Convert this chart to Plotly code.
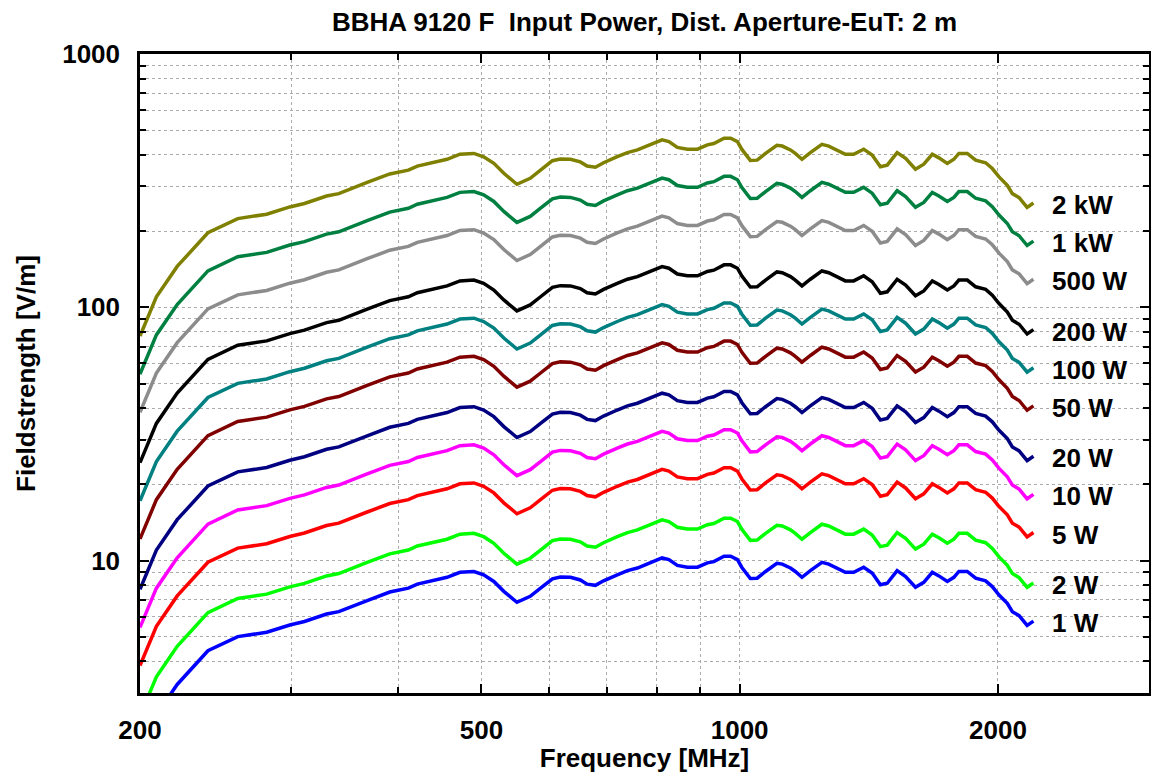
import math
import plotly.graph_objects as go

# ---- data (2 kW curve, V/m) ----
freq_mhz = [200, 209, 221, 240, 260, 281, 299, 311, 330, 341, 368, 391, 411, 421, 456, 472,
            490, 503, 517, 531, 550, 570, 586, 605, 618, 635, 652, 664, 679, 694, 720, 740,
            760, 777, 794, 812, 827, 846, 869, 893, 917, 933, 959, 976, 994, 1006, 1029, 1048,
            1072, 1105, 1121, 1146, 1161, 1182, 1209, 1247, 1270, 1299, 1328, 1358, 1395, 1427,
            1459, 1486, 1526, 1561, 1603, 1639, 1677, 1707, 1746, 1777, 1801, 1842, 1884, 1935,
            1970, 2006, 2051, 2079, 2117, 2163, 2184, 2200]
field_2kw = [77, 110, 145, 197, 224, 233, 249, 257, 275, 281, 311, 336, 348, 361, 384, 402,
             405, 393, 370, 338, 306, 323, 348, 379, 385, 384, 375, 361, 357, 372, 393, 408,
             418, 431, 447, 458, 451, 428, 421, 421, 438, 443, 465, 465, 451, 420, 380, 381,
             405, 436, 433, 418, 405, 384, 408, 440, 433, 418, 402, 402, 421, 399,
             359, 364, 408, 387, 351, 367, 402, 389, 370, 384, 405, 405, 381, 372,
             353, 327, 303, 281, 271, 248, 253, 258]

power_w = [2000, 1000, 500, 200, 100, 50, 20, 10, 5, 2, 1]
power_labels = ["2 kW", "1 kW", "500 W", "200 W", "100 W", "50 W", "20 W", "10 W", "5 W", "2 W", "1 W"]
colors = ["#808000", "#008040", "#8c8c8c", "#000000", "#008080", "#800000",
          "#000080", "#ff00ff", "#ff0000", "#00ff00", "#0000ff"]

x_major = [200, 500, 1000, 2000]
x_minor = [300, 400, 600, 700, 800, 900]
y_major = [10, 100, 1000]
y_minor = [4, 5, 6, 7, 8, 9, 20, 30, 40, 50, 60, 70, 80, 90, 200, 300, 400, 500, 600, 700, 800, 900]

FONT = "Liberation Sans, Arial, sans-serif"
FS = 26

fig = go.Figure()
ref_power = power_w[0]
for p, lab, col in zip(power_w, power_labels, colors):
    k = math.sqrt(p / ref_power)
    yvals = [v * k for v in field_2kw]
    fig.add_trace(go.Scatter(x=freq_mhz, y=yvals, mode="lines", name=lab,
                             line=dict(color=col, width=3.5), showlegend=False))
    fig.add_annotation(x=math.log10(2300), y=math.log10(yvals[-1]), xref="x", yref="y",
                       text=lab, showarrow=False, xanchor="left", yanchor="middle", yshift=-2,
                       font=dict(family=FONT, size=FS, color="black", weight="bold"))

grid = dict(showgrid=True, gridcolor="#ababab", gridwidth=1, griddash="3px,3px")
fig.update_xaxes(type="log", range=[math.log10(200), math.log10(3000)], automargin=False,
                 tickmode="array", tickvals=x_major, ticktext=[str(v) for v in x_major],
                 ticks="inside", ticklen=9, tickwidth=2, tickcolor="black",
                 showline=True, linewidth=2.5, linecolor="black", mirror="allticks",
                 zeroline=False, ticklabelstandoff=12,
                 tickfont=dict(family=FONT, size=FS, color="black", weight="bold"),
                 title=dict(text="Frequency [MHz]", standoff=8,
                            font=dict(family=FONT, size=FS, color="black", weight="bold")),
                 minor=dict(tickmode="array", tickvals=x_minor, ticks="inside", ticklen=6,
                            tickwidth=2, tickcolor="black", **grid),
                 **grid)
fig.update_yaxes(type="log", range=[math.log10(3), 3], automargin=False,
                 tickmode="array", tickvals=y_major, ticktext=[str(v) for v in y_major],
                 ticks="inside", ticklen=9, tickwidth=2, tickcolor="black",
                 showline=True, linewidth=2.5, linecolor="black", mirror="allticks",
                 zeroline=False, ticklabelstandoff=12,
                 tickfont=dict(family=FONT, size=FS, color="black", weight="bold"),
                 title=dict(text="Fieldstrength [V/m]", standoff=20,
                            font=dict(family=FONT, size=FS, color="black", weight="bold")),
                 minor=dict(tickmode="array", tickvals=y_minor, ticks="inside", ticklen=6,
                            tickwidth=2, tickcolor="black", **grid),
                 **grid)

fig.update_layout(
    width=1151, height=773,
    margin=dict(l=140, r=2, t=54, b=80),
    paper_bgcolor="white", plot_bgcolor="white",
    title=dict(text="BBHA 9120 F  Input Power, Dist. Aperture-EuT: 2 m",
               x=0.5, xref="paper", y=1 - 22 / 773, yref="container", yanchor="middle",
               font=dict(family=FONT, size=FS, color="black", weight="bold")),
)

fig.write_html("out.html", config={"displayModeBar": False},
               post_script="document.body.style.margin='0';document.body.style.padding='0';")
